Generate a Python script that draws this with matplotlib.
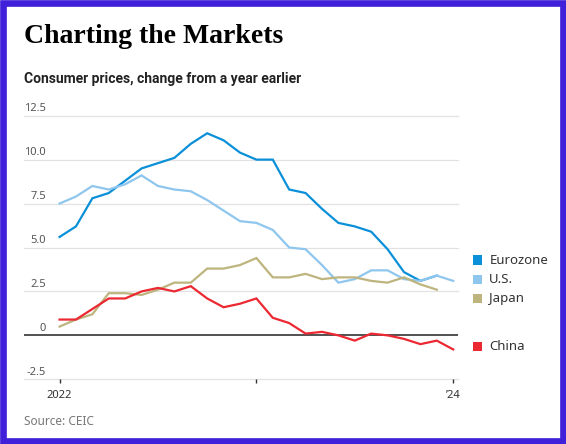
import matplotlib
matplotlib.use('Agg')
import matplotlib.pyplot as plt
from matplotlib.patches import Rectangle
import numpy as np

# monthly, Jan 2022 .. Jan 2024
months = np.arange(25)
eurozone = [5.6, 6.2, 7.8, 8.1, 8.8, 9.5, 9.8, 10.1, 10.9, 11.5, 11.1, 10.4,
            10.0, 10.0, 8.3, 8.1, 7.2, 6.4, 6.2, 5.9, 4.9, 3.6, 3.1, 3.4]
us = [7.5, 7.9, 8.5, 8.3, 8.6, 9.1, 8.5, 8.3, 8.2, 7.7, 7.1, 6.5,
      6.4, 6.0, 5.0, 4.9, 4.0, 3.0, 3.2, 3.7, 3.7, 3.2, 3.1, 3.4, 3.1]
japan = [0.5, 0.9, 1.2, 2.4, 2.4, 2.3, 2.6, 3.0, 3.0, 3.8, 3.8, 4.0,
         4.4, 3.3, 3.3, 3.5, 3.2, 3.3, 3.3, 3.1, 3.0, 3.3, 2.9, 2.6]
china = [0.9, 0.9, 1.5, 2.1, 2.1, 2.5, 2.7, 2.5, 2.8, 2.1, 1.6, 1.8,
         2.1, 1.0, 0.7, 0.1, 0.2, 0.0, -0.3, 0.1, 0.0, -0.2, -0.5, -0.3, -0.8]

series = ['Eurozone', 'U.S.', 'Japan', 'China']
colors = ['#0a90d8', '#8fc6ee', '#bdb47e', '#ec2832']
yticks = [-2.5, 0, 2.5, 5.0, 7.5, 10.0, 12.5]
ytick_labels = ['-2.5', '0', '2.5', '5.0', '7.5', '10.0', '12.5']
xticks = [0, 12, 24]
xtick_labels = ['2022', '', '\u201924']

W, H = 566, 444
fig = plt.figure(figsize=(W / 100, H / 100), dpi=100)
fig.patch.set_facecolor('white')
# purple frame round the white card
fig.patches.append(Rectangle((3 / W, 3.2 / H), 560 / W, 437.6 / H,
                             transform=fig.transFigure, facecolor='none',
                             edgecolor='#4020d8', lw=4.8, zorder=10))

ax = fig.add_axes([23.8 / W, 1 - 379.3 / H, 434 / W, 263.6 / H])
ax.set_facecolor('none')
ax.set_xlim(-2.18, 24.28)
ax.set_ylim(-2.5, 12.5)
for s in ax.spines.values():
    s.set_visible(False)

for y in yticks:
    if y == 0:
        ax.axhline(y, color='#333333', lw=1.2, zorder=3)
    else:
        ax.axhline(y, color='#e2e2e2', lw=0.9, zorder=1, clip_on=False)

data = [eurozone, us, japan, china]
for name, vals, c in zip(series, data, colors):
    ax.plot(months[:len(vals)], vals, color=c, lw=1.6, zorder=4,
            solid_joinstyle='miter', label=name)

ax.set_yticks([])
for y, lab in zip(yticks, ytick_labels):
    ax.annotate(lab, xy=(0.051, y), xycoords=('axes fraction', 'data'),
                xytext=(0, 5), textcoords='offset points',
                ha='right', va='center', fontsize=8, color='#555555',
                family='Noto Sans')

ax.set_xticks(xticks)
ax.set_xticklabels(xtick_labels, fontsize=8, color='#333333', family='Noto Sans')
ax.tick_params(axis='x', length=3, width=1, color='#333333', pad=5)

# legend, placed by the line ends
leg_y = [260, 279.3, 298.3, 346.7]
for name, c, py in zip(series, colors, leg_y):
    fig.patches.append(Rectangle((472.7 / W, 1 - (py + 4.6) / H), 9.3 / W, 9.3 / H,
                                 transform=fig.transFigure, facecolor=c,
                                 edgecolor='none'))
    fig.text(489.3 / W, 1 - py / H, name, ha='left', va='center',
             fontsize=9.5, color='#333333', family='Noto Sans')

fig.text(24.5 / W, 1 - 43 / H, 'Charting the Markets', ha='left', va='baseline',
         fontsize=20, fontweight='bold', family='Liberation Serif', color='black')
fig.text(24.5 / W, 1 - 79 / H, 'Consumer prices, change from a year earlier',
         ha='left', va='center', fontsize=10, fontweight='semibold',
         family='Roboto', color='#222222')
fig.text(24.5 / W, 1 - 421.7 / H, 'Source: CEIC', ha='left', va='center',
         fontsize=8.5, color='#777777', family='Noto Sans')

fig.savefig('out.png', dpi=100)
